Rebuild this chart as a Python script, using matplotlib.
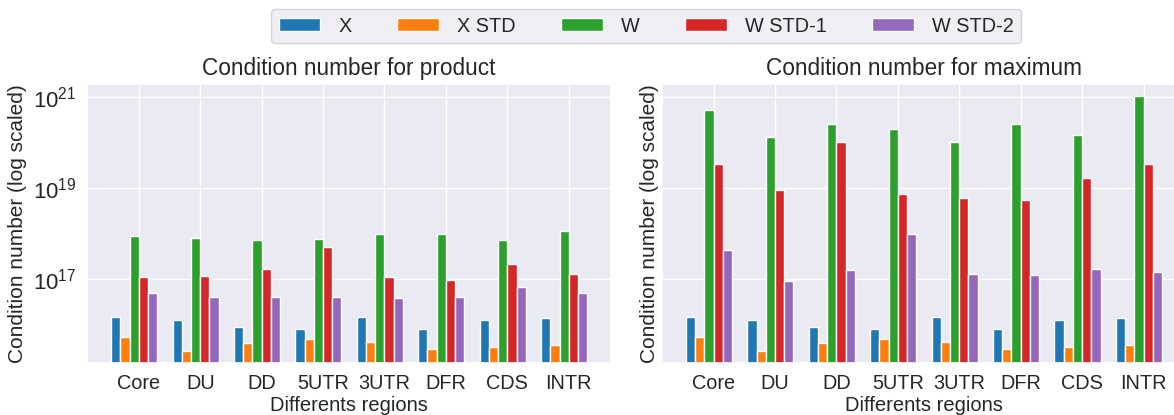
import numpy as np
import matplotlib
matplotlib.use("Agg")
import matplotlib.pyplot as plt
import matplotlib.ticker as mticker
import seaborn as sns

regions = ['Core', 'DU', 'DD', '5UTR', '3UTR', 'DFR', 'CDS', 'INTR']
series = ['X', 'X STD', 'W', 'W STD-1', 'W STD-2']

# condition numbers (same X / X STD in both panels)
x_cond = [1.46e16, 1.26e16, 8.9e15, 8.3e15, 1.51e16, 8.1e15, 1.29e16, 1.45e16]
x_std_cond = [5.4e15, 2.7e15, 4.0e15, 5.0e15, 4.3e15, 3.0e15, 3.3e15, 3.6e15]

w_prod = [9.1e17, 7.9e17, 7.2e17, 7.6e17, 9.8e17, 9.8e17, 7.2e17, 1.17e18]
w_std1_prod = [1.12e17, 1.17e17, 1.66e17, 5.0e17, 1.12e17, 9.8e16, 2.14e17, 1.32e17]
w_std2_prod = [4.9e16, 4.1e16, 4.0e16, 4.0e16, 3.8e16, 4.0e16, 6.8e16, 5.1e16]

w_max = [5.2e20, 1.35e20, 2.6e20, 2.0e20, 1.05e20, 2.6e20, 1.48e20, 1.05e21]
w_std1_max = [3.4e19, 9.1e18, 1.02e20, 7.6e18, 6.2e18, 5.5e18, 1.7e19, 3.4e19]
w_std2_max = [4.4e17, 9.3e16, 1.62e17, 1.0e18, 1.32e17, 1.26e17, 1.7e17, 1.45e17]

y_ticks = [1e17, 1e19, 1e21]

colors = ['#1f77b4', '#ff7f0e', '#2ca02c', '#d62728', '#9467bd']

sns.set_theme(style='darkgrid')
plt.rcParams['font.family'] = ['Liberation Sans', 'DejaVu Sans']
plt.rcParams['mathtext.default'] = 'regular'

fig = plt.figure(figsize=(11.74, 4.15), dpi=100)
ax1 = fig.add_axes([0.0744, 0.126, 0.446, 0.672])
ax2 = fig.add_axes([0.564, 0.126, 0.446, 0.672], sharey=ax1)

width = 0.15
pos = np.arange(len(regions))


def draw_panel(ax, values, title):
    for i, vals in enumerate(values):
        ax.bar(pos + (i - 2.5) * width, vals, width, color=colors[i],
               edgecolor='white', linewidth=1.0, label=series[i])
    ax.set_yscale('log')
    ax.set_title(title, fontsize=16.3, pad=6)
    ax.set_xticks(pos)
    ax.set_xticklabels(regions, fontsize=14.3)
    ax.set_xlabel('Differents regions', fontsize=14.5, labelpad=2)
    ax.set_ylabel('Condition number (log scaled)', fontsize=15)
    ax.tick_params(axis='both', length=0, pad=8)
    ax.tick_params(axis='y', labelsize=16)


draw_panel(ax1, [x_cond, x_std_cond, w_prod, w_std1_prod, w_std2_prod],
           'Condition number for product')
draw_panel(ax2, [x_cond, x_std_cond, w_max, w_std1_max, w_std2_max],
           'Condition number for maximum')

ax1.set_ylim(10 ** 15.17, 10 ** 21.29)
ax1.yaxis.set_major_locator(mticker.FixedLocator(y_ticks))
ax1.yaxis.set_major_formatter(mticker.LogFormatterSciNotation())
ax1.yaxis.set_minor_locator(mticker.NullLocator())
ax2.tick_params(labelleft=False)
ax2.yaxis.labelpad = 2

handles, labels = ax1.get_legend_handles_labels()
fig.legend(handles, labels, loc='center', ncol=5, fontsize=14.3,
           bbox_to_anchor=(646 / 1174, 1 - 26 / 415),
           columnspacing=2.3, handletextpad=0.9, handlelength=2.1)

fig.savefig('out.png', dpi=100)
